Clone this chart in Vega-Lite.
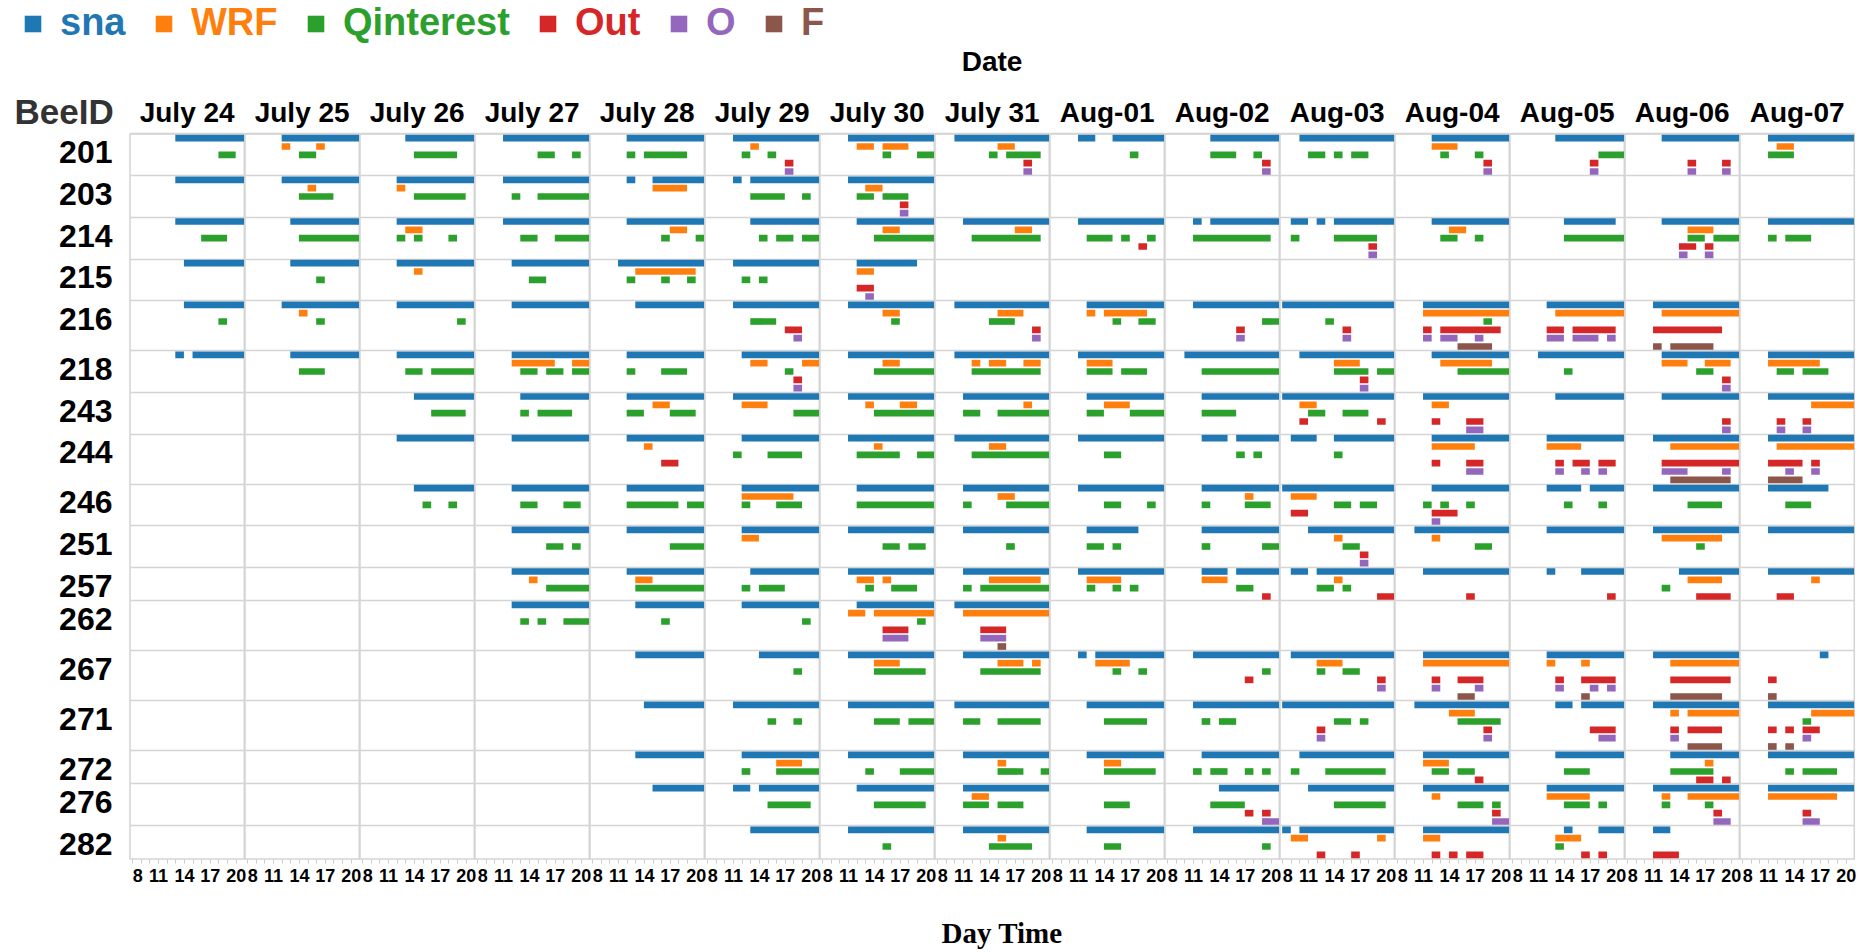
{
"$schema":"https://vega.github.io/schema/vega-lite/v6.json",
"padding":{"left":14,"top":5,"right":8,"bottom":5},
"bounds":"flush",
"background":"white",
"title":{"text":"Day Time","orient":"bottom","anchor":"middle","frame":"bounds","dx":67,"font":"Liberation Serif","fontSize":29,"fontWeight":"bold","color":"black","offset":35},
"data":{"values":[
{"date":"July 24","lane":"201|sna","beh":"sna","from":13,"to":21},
{"date":"July 24","lane":"201|Qinterest","beh":"Qinterest","from":18,"to":20},
{"date":"July 25","lane":"201|sna","beh":"sna","from":12,"to":21},
{"date":"July 25","lane":"201|WRF","beh":"WRF","from":12,"to":13},
{"date":"July 25","lane":"201|WRF","beh":"WRF","from":16,"to":17},
{"date":"July 25","lane":"201|Qinterest","beh":"Qinterest","from":14,"to":16},
{"date":"July 26","lane":"201|sna","beh":"sna","from":13,"to":21},
{"date":"July 26","lane":"201|Qinterest","beh":"Qinterest","from":14,"to":19},
{"date":"July 27","lane":"201|sna","beh":"sna","from":11,"to":21},
{"date":"July 27","lane":"201|Qinterest","beh":"Qinterest","from":15,"to":17},
{"date":"July 27","lane":"201|Qinterest","beh":"Qinterest","from":19,"to":20},
{"date":"July 28","lane":"201|sna","beh":"sna","from":12,"to":21},
{"date":"July 28","lane":"201|Qinterest","beh":"Qinterest","from":12,"to":13},
{"date":"July 28","lane":"201|Qinterest","beh":"Qinterest","from":14,"to":19},
{"date":"July 29","lane":"201|sna","beh":"sna","from":11,"to":21},
{"date":"July 29","lane":"201|WRF","beh":"WRF","from":13,"to":14},
{"date":"July 29","lane":"201|Qinterest","beh":"Qinterest","from":12,"to":13},
{"date":"July 29","lane":"201|Qinterest","beh":"Qinterest","from":15,"to":16},
{"date":"July 29","lane":"201|Out","beh":"Out","from":17,"to":18},
{"date":"July 29","lane":"201|O","beh":"O","from":17,"to":18},
{"date":"July 30","lane":"201|sna","beh":"sna","from":11,"to":21},
{"date":"July 30","lane":"201|WRF","beh":"WRF","from":12,"to":14},
{"date":"July 30","lane":"201|WRF","beh":"WRF","from":15,"to":18},
{"date":"July 30","lane":"201|Qinterest","beh":"Qinterest","from":15,"to":16},
{"date":"July 30","lane":"201|Qinterest","beh":"Qinterest","from":19,"to":21},
{"date":"July 31","lane":"201|sna","beh":"sna","from":10,"to":21},
{"date":"July 31","lane":"201|WRF","beh":"WRF","from":15,"to":17},
{"date":"July 31","lane":"201|Qinterest","beh":"Qinterest","from":14,"to":15},
{"date":"July 31","lane":"201|Qinterest","beh":"Qinterest","from":16,"to":20},
{"date":"July 31","lane":"201|Out","beh":"Out","from":18,"to":19},
{"date":"July 31","lane":"201|O","beh":"O","from":18,"to":19},
{"date":"Aug-01","lane":"201|sna","beh":"sna","from":11,"to":13},
{"date":"Aug-01","lane":"201|sna","beh":"sna","from":15,"to":21},
{"date":"Aug-01","lane":"201|Qinterest","beh":"Qinterest","from":17,"to":18},
{"date":"Aug-02","lane":"201|sna","beh":"sna","from":13,"to":21},
{"date":"Aug-02","lane":"201|Qinterest","beh":"Qinterest","from":13,"to":16},
{"date":"Aug-02","lane":"201|Qinterest","beh":"Qinterest","from":18,"to":19},
{"date":"Aug-02","lane":"201|Out","beh":"Out","from":19,"to":20},
{"date":"Aug-02","lane":"201|O","beh":"O","from":19,"to":20},
{"date":"Aug-03","lane":"201|sna","beh":"sna","from":10,"to":21},
{"date":"Aug-03","lane":"201|Qinterest","beh":"Qinterest","from":11,"to":13},
{"date":"Aug-03","lane":"201|Qinterest","beh":"Qinterest","from":14,"to":15},
{"date":"Aug-03","lane":"201|Qinterest","beh":"Qinterest","from":16,"to":18},
{"date":"Aug-04","lane":"201|sna","beh":"sna","from":12,"to":21},
{"date":"Aug-04","lane":"201|WRF","beh":"WRF","from":12,"to":15},
{"date":"Aug-04","lane":"201|Qinterest","beh":"Qinterest","from":13,"to":14},
{"date":"Aug-04","lane":"201|Qinterest","beh":"Qinterest","from":17,"to":18},
{"date":"Aug-04","lane":"201|Out","beh":"Out","from":18,"to":19},
{"date":"Aug-04","lane":"201|O","beh":"O","from":18,"to":19},
{"date":"Aug-05","lane":"201|sna","beh":"sna","from":13,"to":21},
{"date":"Aug-05","lane":"201|Qinterest","beh":"Qinterest","from":18,"to":21},
{"date":"Aug-05","lane":"201|Out","beh":"Out","from":17,"to":18},
{"date":"Aug-05","lane":"201|O","beh":"O","from":17,"to":18},
{"date":"Aug-06","lane":"201|sna","beh":"sna","from":12,"to":21},
{"date":"Aug-06","lane":"201|Out","beh":"Out","from":15,"to":16},
{"date":"Aug-06","lane":"201|Out","beh":"Out","from":19,"to":20},
{"date":"Aug-06","lane":"201|O","beh":"O","from":15,"to":16},
{"date":"Aug-06","lane":"201|O","beh":"O","from":19,"to":20},
{"date":"Aug-07","lane":"201|sna","beh":"sna","from":11,"to":21},
{"date":"Aug-07","lane":"201|WRF","beh":"WRF","from":12,"to":14},
{"date":"Aug-07","lane":"201|Qinterest","beh":"Qinterest","from":11,"to":14},

{"date":"July 24","lane":"203|sna","beh":"sna","from":13,"to":21},
{"date":"July 25","lane":"203|sna","beh":"sna","from":12,"to":21},
{"date":"July 25","lane":"203|WRF","beh":"WRF","from":15,"to":16},
{"date":"July 25","lane":"203|Qinterest","beh":"Qinterest","from":14,"to":18},
{"date":"July 26","lane":"203|sna","beh":"sna","from":12,"to":21},
{"date":"July 26","lane":"203|WRF","beh":"WRF","from":12,"to":13},
{"date":"July 26","lane":"203|Qinterest","beh":"Qinterest","from":14,"to":20},
{"date":"July 27","lane":"203|sna","beh":"sna","from":11,"to":21},
{"date":"July 27","lane":"203|Qinterest","beh":"Qinterest","from":12,"to":13},
{"date":"July 27","lane":"203|Qinterest","beh":"Qinterest","from":15,"to":21},
{"date":"July 28","lane":"203|sna","beh":"sna","from":12,"to":13},
{"date":"July 28","lane":"203|sna","beh":"sna","from":15,"to":21},
{"date":"July 28","lane":"203|WRF","beh":"WRF","from":15,"to":19},
{"date":"July 29","lane":"203|sna","beh":"sna","from":11,"to":12},
{"date":"July 29","lane":"203|sna","beh":"sna","from":13,"to":21},
{"date":"July 29","lane":"203|Qinterest","beh":"Qinterest","from":13,"to":17},
{"date":"July 29","lane":"203|Qinterest","beh":"Qinterest","from":19,"to":20},
{"date":"July 30","lane":"203|sna","beh":"sna","from":11,"to":21},
{"date":"July 30","lane":"203|WRF","beh":"WRF","from":13,"to":15},
{"date":"July 30","lane":"203|Qinterest","beh":"Qinterest","from":12,"to":14},
{"date":"July 30","lane":"203|Qinterest","beh":"Qinterest","from":15,"to":18},
{"date":"July 30","lane":"203|Out","beh":"Out","from":17,"to":18},
{"date":"July 30","lane":"203|O","beh":"O","from":17,"to":18},

{"date":"July 24","lane":"214|sna","beh":"sna","from":13,"to":21},
{"date":"July 24","lane":"214|Qinterest","beh":"Qinterest","from":16,"to":19},
{"date":"July 25","lane":"214|sna","beh":"sna","from":13,"to":21},
{"date":"July 25","lane":"214|Qinterest","beh":"Qinterest","from":14,"to":21},
{"date":"July 26","lane":"214|sna","beh":"sna","from":12,"to":21},
{"date":"July 26","lane":"214|WRF","beh":"WRF","from":13,"to":15},
{"date":"July 26","lane":"214|Qinterest","beh":"Qinterest","from":12,"to":13},
{"date":"July 26","lane":"214|Qinterest","beh":"Qinterest","from":14,"to":15},
{"date":"July 26","lane":"214|Qinterest","beh":"Qinterest","from":18,"to":19},
{"date":"July 27","lane":"214|sna","beh":"sna","from":11,"to":21},
{"date":"July 27","lane":"214|Qinterest","beh":"Qinterest","from":13,"to":15},
{"date":"July 27","lane":"214|Qinterest","beh":"Qinterest","from":17,"to":21},
{"date":"July 28","lane":"214|sna","beh":"sna","from":12,"to":21},
{"date":"July 28","lane":"214|WRF","beh":"WRF","from":17,"to":19},
{"date":"July 28","lane":"214|Qinterest","beh":"Qinterest","from":16,"to":17},
{"date":"July 28","lane":"214|Qinterest","beh":"Qinterest","from":20,"to":21},
{"date":"July 29","lane":"214|sna","beh":"sna","from":13,"to":21},
{"date":"July 29","lane":"214|Qinterest","beh":"Qinterest","from":14,"to":15},
{"date":"July 29","lane":"214|Qinterest","beh":"Qinterest","from":16,"to":18},
{"date":"July 29","lane":"214|Qinterest","beh":"Qinterest","from":19,"to":21},
{"date":"July 30","lane":"214|sna","beh":"sna","from":12,"to":21},
{"date":"July 30","lane":"214|WRF","beh":"WRF","from":15,"to":17},
{"date":"July 30","lane":"214|Qinterest","beh":"Qinterest","from":14,"to":21},
{"date":"July 31","lane":"214|sna","beh":"sna","from":11,"to":21},
{"date":"July 31","lane":"214|WRF","beh":"WRF","from":17,"to":19},
{"date":"July 31","lane":"214|Qinterest","beh":"Qinterest","from":12,"to":20},
{"date":"Aug-01","lane":"214|sna","beh":"sna","from":11,"to":21},
{"date":"Aug-01","lane":"214|Qinterest","beh":"Qinterest","from":12,"to":15},
{"date":"Aug-01","lane":"214|Qinterest","beh":"Qinterest","from":16,"to":17},
{"date":"Aug-01","lane":"214|Qinterest","beh":"Qinterest","from":19,"to":20},
{"date":"Aug-01","lane":"214|Out","beh":"Out","from":18,"to":19},
{"date":"Aug-02","lane":"214|sna","beh":"sna","from":11,"to":12},
{"date":"Aug-02","lane":"214|sna","beh":"sna","from":13,"to":21},
{"date":"Aug-02","lane":"214|Qinterest","beh":"Qinterest","from":11,"to":20},
{"date":"Aug-03","lane":"214|sna","beh":"sna","from":9,"to":11},
{"date":"Aug-03","lane":"214|sna","beh":"sna","from":12,"to":13},
{"date":"Aug-03","lane":"214|sna","beh":"sna","from":14,"to":21},
{"date":"Aug-03","lane":"214|Qinterest","beh":"Qinterest","from":9,"to":10},
{"date":"Aug-03","lane":"214|Qinterest","beh":"Qinterest","from":14,"to":19},
{"date":"Aug-03","lane":"214|Out","beh":"Out","from":18,"to":19},
{"date":"Aug-03","lane":"214|O","beh":"O","from":18,"to":19},
{"date":"Aug-04","lane":"214|sna","beh":"sna","from":12,"to":21},
{"date":"Aug-04","lane":"214|WRF","beh":"WRF","from":14,"to":16},
{"date":"Aug-04","lane":"214|Qinterest","beh":"Qinterest","from":13,"to":15},
{"date":"Aug-04","lane":"214|Qinterest","beh":"Qinterest","from":17,"to":18},
{"date":"Aug-05","lane":"214|sna","beh":"sna","from":14,"to":20},
{"date":"Aug-05","lane":"214|Qinterest","beh":"Qinterest","from":14,"to":21},
{"date":"Aug-06","lane":"214|sna","beh":"sna","from":12,"to":21},
{"date":"Aug-06","lane":"214|WRF","beh":"WRF","from":15,"to":18},
{"date":"Aug-06","lane":"214|Qinterest","beh":"Qinterest","from":15,"to":17},
{"date":"Aug-06","lane":"214|Qinterest","beh":"Qinterest","from":18,"to":21},
{"date":"Aug-06","lane":"214|Out","beh":"Out","from":14,"to":16},
{"date":"Aug-06","lane":"214|Out","beh":"Out","from":17,"to":18},
{"date":"Aug-06","lane":"214|O","beh":"O","from":14,"to":15},
{"date":"Aug-06","lane":"214|O","beh":"O","from":17,"to":18},
{"date":"Aug-07","lane":"214|sna","beh":"sna","from":11,"to":21},
{"date":"Aug-07","lane":"214|Qinterest","beh":"Qinterest","from":11,"to":12},
{"date":"Aug-07","lane":"214|Qinterest","beh":"Qinterest","from":13,"to":16},

{"date":"July 24","lane":"215|sna","beh":"sna","from":14,"to":21},
{"date":"July 25","lane":"215|sna","beh":"sna","from":13,"to":21},
{"date":"July 25","lane":"215|Qinterest","beh":"Qinterest","from":16,"to":17},
{"date":"July 26","lane":"215|sna","beh":"sna","from":12,"to":21},
{"date":"July 26","lane":"215|WRF","beh":"WRF","from":14,"to":15},
{"date":"July 27","lane":"215|sna","beh":"sna","from":12,"to":21},
{"date":"July 27","lane":"215|Qinterest","beh":"Qinterest","from":14,"to":16},
{"date":"July 28","lane":"215|sna","beh":"sna","from":11,"to":21},
{"date":"July 28","lane":"215|WRF","beh":"WRF","from":13,"to":20},
{"date":"July 28","lane":"215|Qinterest","beh":"Qinterest","from":12,"to":13},
{"date":"July 28","lane":"215|Qinterest","beh":"Qinterest","from":16,"to":17},
{"date":"July 28","lane":"215|Qinterest","beh":"Qinterest","from":19,"to":20},
{"date":"July 29","lane":"215|sna","beh":"sna","from":11,"to":21},
{"date":"July 29","lane":"215|Qinterest","beh":"Qinterest","from":12,"to":13},
{"date":"July 29","lane":"215|Qinterest","beh":"Qinterest","from":14,"to":15},
{"date":"July 30","lane":"215|sna","beh":"sna","from":12,"to":19},
{"date":"July 30","lane":"215|WRF","beh":"WRF","from":12,"to":14},
{"date":"July 30","lane":"215|Out","beh":"Out","from":12,"to":14},
{"date":"July 30","lane":"215|O","beh":"O","from":13,"to":14},

{"date":"July 24","lane":"216|sna","beh":"sna","from":14,"to":21},
{"date":"July 24","lane":"216|Qinterest","beh":"Qinterest","from":18,"to":19},
{"date":"July 25","lane":"216|sna","beh":"sna","from":12,"to":21},
{"date":"July 25","lane":"216|WRF","beh":"WRF","from":14,"to":15},
{"date":"July 25","lane":"216|Qinterest","beh":"Qinterest","from":16,"to":17},
{"date":"July 26","lane":"216|sna","beh":"sna","from":12,"to":21},
{"date":"July 26","lane":"216|Qinterest","beh":"Qinterest","from":19,"to":20},
{"date":"July 27","lane":"216|sna","beh":"sna","from":12,"to":21},
{"date":"July 28","lane":"216|sna","beh":"sna","from":13,"to":21},
{"date":"July 29","lane":"216|sna","beh":"sna","from":11,"to":21},
{"date":"July 29","lane":"216|Qinterest","beh":"Qinterest","from":13,"to":16},
{"date":"July 29","lane":"216|Out","beh":"Out","from":17,"to":19},
{"date":"July 29","lane":"216|O","beh":"O","from":18,"to":19},
{"date":"July 30","lane":"216|sna","beh":"sna","from":11,"to":21},
{"date":"July 30","lane":"216|WRF","beh":"WRF","from":15,"to":17},
{"date":"July 30","lane":"216|Qinterest","beh":"Qinterest","from":16,"to":17},
{"date":"July 31","lane":"216|sna","beh":"sna","from":10,"to":21},
{"date":"July 31","lane":"216|WRF","beh":"WRF","from":15,"to":18},
{"date":"July 31","lane":"216|Qinterest","beh":"Qinterest","from":14,"to":17},
{"date":"July 31","lane":"216|Out","beh":"Out","from":19,"to":20},
{"date":"July 31","lane":"216|O","beh":"O","from":19,"to":20},
{"date":"Aug-01","lane":"216|sna","beh":"sna","from":12,"to":21},
{"date":"Aug-01","lane":"216|WRF","beh":"WRF","from":12,"to":13},
{"date":"Aug-01","lane":"216|WRF","beh":"WRF","from":14,"to":19},
{"date":"Aug-01","lane":"216|Qinterest","beh":"Qinterest","from":15,"to":16},
{"date":"Aug-01","lane":"216|Qinterest","beh":"Qinterest","from":18,"to":20},
{"date":"Aug-02","lane":"216|sna","beh":"sna","from":11,"to":21},
{"date":"Aug-02","lane":"216|Qinterest","beh":"Qinterest","from":19,"to":21},
{"date":"Aug-02","lane":"216|Out","beh":"Out","from":16,"to":17},
{"date":"Aug-02","lane":"216|O","beh":"O","from":16,"to":17},
{"date":"Aug-03","lane":"216|sna","beh":"sna","from":8,"to":21},
{"date":"Aug-03","lane":"216|Qinterest","beh":"Qinterest","from":13,"to":14},
{"date":"Aug-03","lane":"216|Out","beh":"Out","from":15,"to":16},
{"date":"Aug-03","lane":"216|O","beh":"O","from":15,"to":16},
{"date":"Aug-04","lane":"216|sna","beh":"sna","from":11,"to":21},
{"date":"Aug-04","lane":"216|WRF","beh":"WRF","from":11,"to":21},
{"date":"Aug-04","lane":"216|Qinterest","beh":"Qinterest","from":18,"to":19},
{"date":"Aug-04","lane":"216|Out","beh":"Out","from":11,"to":12},
{"date":"Aug-04","lane":"216|Out","beh":"Out","from":13,"to":20},
{"date":"Aug-04","lane":"216|O","beh":"O","from":11,"to":12},
{"date":"Aug-04","lane":"216|O","beh":"O","from":13,"to":15},
{"date":"Aug-04","lane":"216|O","beh":"O","from":17,"to":18},
{"date":"Aug-04","lane":"216|F","beh":"F","from":15,"to":19},
{"date":"Aug-05","lane":"216|sna","beh":"sna","from":12,"to":21},
{"date":"Aug-05","lane":"216|WRF","beh":"WRF","from":13,"to":21},
{"date":"Aug-05","lane":"216|Out","beh":"Out","from":12,"to":14},
{"date":"Aug-05","lane":"216|Out","beh":"Out","from":15,"to":20},
{"date":"Aug-05","lane":"216|O","beh":"O","from":12,"to":14},
{"date":"Aug-05","lane":"216|O","beh":"O","from":15,"to":18},
{"date":"Aug-05","lane":"216|O","beh":"O","from":19,"to":20},
{"date":"Aug-06","lane":"216|sna","beh":"sna","from":11,"to":21},
{"date":"Aug-06","lane":"216|WRF","beh":"WRF","from":12,"to":21},
{"date":"Aug-06","lane":"216|Out","beh":"Out","from":11,"to":19},
{"date":"Aug-06","lane":"216|F","beh":"F","from":11,"to":12},
{"date":"Aug-06","lane":"216|F","beh":"F","from":13,"to":18},

{"date":"July 24","lane":"218|sna","beh":"sna","from":13,"to":14},
{"date":"July 24","lane":"218|sna","beh":"sna","from":15,"to":21},
{"date":"July 25","lane":"218|sna","beh":"sna","from":13,"to":21},
{"date":"July 25","lane":"218|Qinterest","beh":"Qinterest","from":14,"to":17},
{"date":"July 26","lane":"218|sna","beh":"sna","from":12,"to":21},
{"date":"July 26","lane":"218|Qinterest","beh":"Qinterest","from":13,"to":15},
{"date":"July 26","lane":"218|Qinterest","beh":"Qinterest","from":16,"to":21},
{"date":"July 27","lane":"218|sna","beh":"sna","from":12,"to":21},
{"date":"July 27","lane":"218|WRF","beh":"WRF","from":12,"to":17},
{"date":"July 27","lane":"218|WRF","beh":"WRF","from":19,"to":21},
{"date":"July 27","lane":"218|Qinterest","beh":"Qinterest","from":13,"to":15},
{"date":"July 27","lane":"218|Qinterest","beh":"Qinterest","from":16,"to":18},
{"date":"July 27","lane":"218|Qinterest","beh":"Qinterest","from":19,"to":21},
{"date":"July 28","lane":"218|sna","beh":"sna","from":12,"to":21},
{"date":"July 28","lane":"218|Qinterest","beh":"Qinterest","from":12,"to":13},
{"date":"July 28","lane":"218|Qinterest","beh":"Qinterest","from":16,"to":19},
{"date":"July 29","lane":"218|sna","beh":"sna","from":12,"to":21},
{"date":"July 29","lane":"218|WRF","beh":"WRF","from":13,"to":15},
{"date":"July 29","lane":"218|WRF","beh":"WRF","from":19,"to":21},
{"date":"July 29","lane":"218|Qinterest","beh":"Qinterest","from":17,"to":18},
{"date":"July 29","lane":"218|Out","beh":"Out","from":18,"to":19},
{"date":"July 29","lane":"218|O","beh":"O","from":18,"to":19},
{"date":"July 30","lane":"218|sna","beh":"sna","from":11,"to":21},
{"date":"July 30","lane":"218|WRF","beh":"WRF","from":15,"to":17},
{"date":"July 30","lane":"218|Qinterest","beh":"Qinterest","from":14,"to":21},
{"date":"July 31","lane":"218|sna","beh":"sna","from":10,"to":21},
{"date":"July 31","lane":"218|WRF","beh":"WRF","from":12,"to":13},
{"date":"July 31","lane":"218|WRF","beh":"WRF","from":14,"to":16},
{"date":"July 31","lane":"218|WRF","beh":"WRF","from":18,"to":20},
{"date":"July 31","lane":"218|Qinterest","beh":"Qinterest","from":12,"to":20},
{"date":"Aug-01","lane":"218|sna","beh":"sna","from":11,"to":21},
{"date":"Aug-01","lane":"218|WRF","beh":"WRF","from":12,"to":15},
{"date":"Aug-01","lane":"218|Qinterest","beh":"Qinterest","from":12,"to":15},
{"date":"Aug-01","lane":"218|Qinterest","beh":"Qinterest","from":16,"to":19},
{"date":"Aug-02","lane":"218|sna","beh":"sna","from":10,"to":21},
{"date":"Aug-02","lane":"218|Qinterest","beh":"Qinterest","from":12,"to":21},
{"date":"Aug-03","lane":"218|sna","beh":"sna","from":10,"to":21},
{"date":"Aug-03","lane":"218|WRF","beh":"WRF","from":14,"to":17},
{"date":"Aug-03","lane":"218|Qinterest","beh":"Qinterest","from":14,"to":18},
{"date":"Aug-03","lane":"218|Qinterest","beh":"Qinterest","from":19,"to":21},
{"date":"Aug-03","lane":"218|Out","beh":"Out","from":17,"to":18},
{"date":"Aug-03","lane":"218|O","beh":"O","from":17,"to":18},
{"date":"Aug-04","lane":"218|sna","beh":"sna","from":12,"to":21},
{"date":"Aug-04","lane":"218|WRF","beh":"WRF","from":13,"to":19},
{"date":"Aug-04","lane":"218|Qinterest","beh":"Qinterest","from":15,"to":21},
{"date":"Aug-05","lane":"218|sna","beh":"sna","from":11,"to":21},
{"date":"Aug-05","lane":"218|Qinterest","beh":"Qinterest","from":14,"to":15},
{"date":"Aug-06","lane":"218|sna","beh":"sna","from":12,"to":21},
{"date":"Aug-06","lane":"218|WRF","beh":"WRF","from":12,"to":15},
{"date":"Aug-06","lane":"218|WRF","beh":"WRF","from":17,"to":20},
{"date":"Aug-06","lane":"218|Qinterest","beh":"Qinterest","from":16,"to":18},
{"date":"Aug-06","lane":"218|Out","beh":"Out","from":19,"to":20},
{"date":"Aug-06","lane":"218|O","beh":"O","from":19,"to":20},
{"date":"Aug-07","lane":"218|sna","beh":"sna","from":11,"to":21},
{"date":"Aug-07","lane":"218|WRF","beh":"WRF","from":11,"to":17},
{"date":"Aug-07","lane":"218|Qinterest","beh":"Qinterest","from":12,"to":14},
{"date":"Aug-07","lane":"218|Qinterest","beh":"Qinterest","from":15,"to":18},

{"date":"July 26","lane":"243|sna","beh":"sna","from":14,"to":21},
{"date":"July 26","lane":"243|Qinterest","beh":"Qinterest","from":16,"to":20},
{"date":"July 27","lane":"243|sna","beh":"sna","from":13,"to":21},
{"date":"July 27","lane":"243|Qinterest","beh":"Qinterest","from":13,"to":14},
{"date":"July 27","lane":"243|Qinterest","beh":"Qinterest","from":15,"to":19},
{"date":"July 28","lane":"243|sna","beh":"sna","from":12,"to":21},
{"date":"July 28","lane":"243|WRF","beh":"WRF","from":15,"to":17},
{"date":"July 28","lane":"243|Qinterest","beh":"Qinterest","from":12,"to":14},
{"date":"July 28","lane":"243|Qinterest","beh":"Qinterest","from":17,"to":20},
{"date":"July 29","lane":"243|sna","beh":"sna","from":11,"to":21},
{"date":"July 29","lane":"243|WRF","beh":"WRF","from":12,"to":15},
{"date":"July 29","lane":"243|Qinterest","beh":"Qinterest","from":18,"to":21},
{"date":"July 30","lane":"243|sna","beh":"sna","from":11,"to":21},
{"date":"July 30","lane":"243|WRF","beh":"WRF","from":13,"to":14},
{"date":"July 30","lane":"243|WRF","beh":"WRF","from":17,"to":19},
{"date":"July 30","lane":"243|Qinterest","beh":"Qinterest","from":14,"to":21},
{"date":"July 31","lane":"243|sna","beh":"sna","from":11,"to":21},
{"date":"July 31","lane":"243|WRF","beh":"WRF","from":18,"to":19},
{"date":"July 31","lane":"243|Qinterest","beh":"Qinterest","from":11,"to":13},
{"date":"July 31","lane":"243|Qinterest","beh":"Qinterest","from":15,"to":21},
{"date":"Aug-01","lane":"243|sna","beh":"sna","from":12,"to":21},
{"date":"Aug-01","lane":"243|WRF","beh":"WRF","from":14,"to":17},
{"date":"Aug-01","lane":"243|Qinterest","beh":"Qinterest","from":12,"to":14},
{"date":"Aug-01","lane":"243|Qinterest","beh":"Qinterest","from":17,"to":21},
{"date":"Aug-02","lane":"243|sna","beh":"sna","from":12,"to":21},
{"date":"Aug-02","lane":"243|Qinterest","beh":"Qinterest","from":12,"to":16},
{"date":"Aug-03","lane":"243|sna","beh":"sna","from":8,"to":21},
{"date":"Aug-03","lane":"243|WRF","beh":"WRF","from":10,"to":12},
{"date":"Aug-03","lane":"243|Qinterest","beh":"Qinterest","from":11,"to":13},
{"date":"Aug-03","lane":"243|Qinterest","beh":"Qinterest","from":15,"to":18},
{"date":"Aug-03","lane":"243|Out","beh":"Out","from":10,"to":11},
{"date":"Aug-03","lane":"243|Out","beh":"Out","from":19,"to":20},
{"date":"Aug-04","lane":"243|sna","beh":"sna","from":11,"to":21},
{"date":"Aug-04","lane":"243|WRF","beh":"WRF","from":12,"to":14},
{"date":"Aug-04","lane":"243|Out","beh":"Out","from":12,"to":13},
{"date":"Aug-04","lane":"243|Out","beh":"Out","from":16,"to":18},
{"date":"Aug-04","lane":"243|O","beh":"O","from":16,"to":18},
{"date":"Aug-05","lane":"243|sna","beh":"sna","from":13,"to":21},
{"date":"Aug-06","lane":"243|sna","beh":"sna","from":12,"to":21},
{"date":"Aug-06","lane":"243|Out","beh":"Out","from":19,"to":20},
{"date":"Aug-06","lane":"243|O","beh":"O","from":19,"to":20},
{"date":"Aug-07","lane":"243|sna","beh":"sna","from":11,"to":21},
{"date":"Aug-07","lane":"243|WRF","beh":"WRF","from":16,"to":21},
{"date":"Aug-07","lane":"243|Out","beh":"Out","from":12,"to":13},
{"date":"Aug-07","lane":"243|Out","beh":"Out","from":15,"to":16},
{"date":"Aug-07","lane":"243|O","beh":"O","from":12,"to":13},
{"date":"Aug-07","lane":"243|O","beh":"O","from":15,"to":16},

{"date":"July 26","lane":"244|sna","beh":"sna","from":12,"to":21},
{"date":"July 27","lane":"244|sna","beh":"sna","from":12,"to":21},
{"date":"July 28","lane":"244|sna","beh":"sna","from":12,"to":21},
{"date":"July 28","lane":"244|WRF","beh":"WRF","from":14,"to":15},
{"date":"July 28","lane":"244|Out","beh":"Out","from":16,"to":18},
{"date":"July 29","lane":"244|sna","beh":"sna","from":12,"to":21},
{"date":"July 29","lane":"244|Qinterest","beh":"Qinterest","from":11,"to":12},
{"date":"July 29","lane":"244|Qinterest","beh":"Qinterest","from":15,"to":19},
{"date":"July 30","lane":"244|sna","beh":"sna","from":11,"to":21},
{"date":"July 30","lane":"244|WRF","beh":"WRF","from":14,"to":15},
{"date":"July 30","lane":"244|Qinterest","beh":"Qinterest","from":12,"to":17},
{"date":"July 30","lane":"244|Qinterest","beh":"Qinterest","from":19,"to":21},
{"date":"July 31","lane":"244|sna","beh":"sna","from":10,"to":21},
{"date":"July 31","lane":"244|WRF","beh":"WRF","from":14,"to":16},
{"date":"July 31","lane":"244|Qinterest","beh":"Qinterest","from":12,"to":21},
{"date":"Aug-01","lane":"244|sna","beh":"sna","from":11,"to":21},
{"date":"Aug-01","lane":"244|Qinterest","beh":"Qinterest","from":14,"to":16},
{"date":"Aug-02","lane":"244|sna","beh":"sna","from":12,"to":15},
{"date":"Aug-02","lane":"244|sna","beh":"sna","from":16,"to":21},
{"date":"Aug-02","lane":"244|Qinterest","beh":"Qinterest","from":16,"to":17},
{"date":"Aug-02","lane":"244|Qinterest","beh":"Qinterest","from":18,"to":19},
{"date":"Aug-03","lane":"244|sna","beh":"sna","from":9,"to":12},
{"date":"Aug-03","lane":"244|sna","beh":"sna","from":14,"to":21},
{"date":"Aug-03","lane":"244|Qinterest","beh":"Qinterest","from":14,"to":15},
{"date":"Aug-04","lane":"244|sna","beh":"sna","from":12,"to":21},
{"date":"Aug-04","lane":"244|WRF","beh":"WRF","from":12,"to":17},
{"date":"Aug-04","lane":"244|Out","beh":"Out","from":12,"to":13},
{"date":"Aug-04","lane":"244|Out","beh":"Out","from":16,"to":18},
{"date":"Aug-04","lane":"244|O","beh":"O","from":16,"to":18},
{"date":"Aug-05","lane":"244|sna","beh":"sna","from":12,"to":21},
{"date":"Aug-05","lane":"244|WRF","beh":"WRF","from":12,"to":16},
{"date":"Aug-05","lane":"244|Out","beh":"Out","from":13,"to":14},
{"date":"Aug-05","lane":"244|Out","beh":"Out","from":15,"to":17},
{"date":"Aug-05","lane":"244|Out","beh":"Out","from":18,"to":20},
{"date":"Aug-05","lane":"244|O","beh":"O","from":13,"to":14},
{"date":"Aug-05","lane":"244|O","beh":"O","from":16,"to":17},
{"date":"Aug-05","lane":"244|O","beh":"O","from":18,"to":19},
{"date":"Aug-06","lane":"244|sna","beh":"sna","from":11,"to":21},
{"date":"Aug-06","lane":"244|WRF","beh":"WRF","from":13,"to":21},
{"date":"Aug-06","lane":"244|Out","beh":"Out","from":12,"to":21},
{"date":"Aug-06","lane":"244|O","beh":"O","from":12,"to":15},
{"date":"Aug-06","lane":"244|O","beh":"O","from":19,"to":20},
{"date":"Aug-06","lane":"244|F","beh":"F","from":13,"to":20},
{"date":"Aug-07","lane":"244|sna","beh":"sna","from":11,"to":21},
{"date":"Aug-07","lane":"244|WRF","beh":"WRF","from":12,"to":21},
{"date":"Aug-07","lane":"244|Out","beh":"Out","from":11,"to":15},
{"date":"Aug-07","lane":"244|Out","beh":"Out","from":16,"to":17},
{"date":"Aug-07","lane":"244|O","beh":"O","from":13,"to":14},
{"date":"Aug-07","lane":"244|O","beh":"O","from":16,"to":17},
{"date":"Aug-07","lane":"244|F","beh":"F","from":11,"to":15},

{"date":"July 26","lane":"246|sna","beh":"sna","from":14,"to":21},
{"date":"July 26","lane":"246|Qinterest","beh":"Qinterest","from":15,"to":16},
{"date":"July 26","lane":"246|Qinterest","beh":"Qinterest","from":18,"to":19},
{"date":"July 27","lane":"246|sna","beh":"sna","from":12,"to":21},
{"date":"July 27","lane":"246|Qinterest","beh":"Qinterest","from":13,"to":15},
{"date":"July 27","lane":"246|Qinterest","beh":"Qinterest","from":18,"to":20},
{"date":"July 28","lane":"246|sna","beh":"sna","from":12,"to":21},
{"date":"July 28","lane":"246|Qinterest","beh":"Qinterest","from":12,"to":18},
{"date":"July 28","lane":"246|Qinterest","beh":"Qinterest","from":19,"to":21},
{"date":"July 29","lane":"246|sna","beh":"sna","from":12,"to":21},
{"date":"July 29","lane":"246|WRF","beh":"WRF","from":12,"to":18},
{"date":"July 29","lane":"246|Qinterest","beh":"Qinterest","from":12,"to":13},
{"date":"July 29","lane":"246|Qinterest","beh":"Qinterest","from":16,"to":19},
{"date":"July 30","lane":"246|sna","beh":"sna","from":12,"to":21},
{"date":"July 30","lane":"246|Qinterest","beh":"Qinterest","from":12,"to":21},
{"date":"July 31","lane":"246|sna","beh":"sna","from":11,"to":21},
{"date":"July 31","lane":"246|WRF","beh":"WRF","from":15,"to":17},
{"date":"July 31","lane":"246|Qinterest","beh":"Qinterest","from":11,"to":12},
{"date":"July 31","lane":"246|Qinterest","beh":"Qinterest","from":16,"to":21},
{"date":"Aug-01","lane":"246|sna","beh":"sna","from":11,"to":21},
{"date":"Aug-01","lane":"246|Qinterest","beh":"Qinterest","from":14,"to":16},
{"date":"Aug-01","lane":"246|Qinterest","beh":"Qinterest","from":19,"to":20},
{"date":"Aug-02","lane":"246|sna","beh":"sna","from":12,"to":21},
{"date":"Aug-02","lane":"246|WRF","beh":"WRF","from":17,"to":18},
{"date":"Aug-02","lane":"246|Qinterest","beh":"Qinterest","from":12,"to":13},
{"date":"Aug-02","lane":"246|Qinterest","beh":"Qinterest","from":17,"to":20},
{"date":"Aug-03","lane":"246|sna","beh":"sna","from":8,"to":21},
{"date":"Aug-03","lane":"246|WRF","beh":"WRF","from":9,"to":12},
{"date":"Aug-03","lane":"246|Qinterest","beh":"Qinterest","from":14,"to":16},
{"date":"Aug-03","lane":"246|Qinterest","beh":"Qinterest","from":17,"to":19},
{"date":"Aug-03","lane":"246|Out","beh":"Out","from":9,"to":11},
{"date":"Aug-04","lane":"246|sna","beh":"sna","from":12,"to":21},
{"date":"Aug-04","lane":"246|Qinterest","beh":"Qinterest","from":11,"to":12},
{"date":"Aug-04","lane":"246|Qinterest","beh":"Qinterest","from":13,"to":14},
{"date":"Aug-04","lane":"246|Qinterest","beh":"Qinterest","from":16,"to":17},
{"date":"Aug-04","lane":"246|Out","beh":"Out","from":12,"to":15},
{"date":"Aug-04","lane":"246|O","beh":"O","from":12,"to":13},
{"date":"Aug-05","lane":"246|sna","beh":"sna","from":12,"to":16},
{"date":"Aug-05","lane":"246|sna","beh":"sna","from":17,"to":21},
{"date":"Aug-05","lane":"246|Qinterest","beh":"Qinterest","from":14,"to":15},
{"date":"Aug-05","lane":"246|Qinterest","beh":"Qinterest","from":18,"to":19},
{"date":"Aug-06","lane":"246|sna","beh":"sna","from":11,"to":21},
{"date":"Aug-06","lane":"246|Qinterest","beh":"Qinterest","from":15,"to":19},
{"date":"Aug-07","lane":"246|sna","beh":"sna","from":11,"to":18},
{"date":"Aug-07","lane":"246|Qinterest","beh":"Qinterest","from":13,"to":16},

{"date":"July 27","lane":"251|sna","beh":"sna","from":12,"to":21},
{"date":"July 27","lane":"251|Qinterest","beh":"Qinterest","from":16,"to":18},
{"date":"July 27","lane":"251|Qinterest","beh":"Qinterest","from":19,"to":20},
{"date":"July 28","lane":"251|sna","beh":"sna","from":12,"to":21},
{"date":"July 28","lane":"251|Qinterest","beh":"Qinterest","from":17,"to":21},
{"date":"July 29","lane":"251|sna","beh":"sna","from":12,"to":21},
{"date":"July 29","lane":"251|WRF","beh":"WRF","from":12,"to":14},
{"date":"July 30","lane":"251|sna","beh":"sna","from":11,"to":21},
{"date":"July 30","lane":"251|Qinterest","beh":"Qinterest","from":15,"to":17},
{"date":"July 30","lane":"251|Qinterest","beh":"Qinterest","from":18,"to":20},
{"date":"July 31","lane":"251|sna","beh":"sna","from":11,"to":21},
{"date":"July 31","lane":"251|Qinterest","beh":"Qinterest","from":16,"to":17},
{"date":"Aug-01","lane":"251|sna","beh":"sna","from":12,"to":18},
{"date":"Aug-01","lane":"251|Qinterest","beh":"Qinterest","from":12,"to":14},
{"date":"Aug-01","lane":"251|Qinterest","beh":"Qinterest","from":15,"to":16},
{"date":"Aug-02","lane":"251|sna","beh":"sna","from":12,"to":21},
{"date":"Aug-02","lane":"251|Qinterest","beh":"Qinterest","from":12,"to":13},
{"date":"Aug-02","lane":"251|Qinterest","beh":"Qinterest","from":19,"to":21},
{"date":"Aug-03","lane":"251|sna","beh":"sna","from":11,"to":21},
{"date":"Aug-03","lane":"251|WRF","beh":"WRF","from":14,"to":15},
{"date":"Aug-03","lane":"251|Qinterest","beh":"Qinterest","from":15,"to":17},
{"date":"Aug-03","lane":"251|Out","beh":"Out","from":17,"to":18},
{"date":"Aug-03","lane":"251|O","beh":"O","from":17,"to":18},
{"date":"Aug-04","lane":"251|sna","beh":"sna","from":10,"to":21},
{"date":"Aug-04","lane":"251|WRF","beh":"WRF","from":12,"to":13},
{"date":"Aug-04","lane":"251|Qinterest","beh":"Qinterest","from":17,"to":19},
{"date":"Aug-05","lane":"251|sna","beh":"sna","from":12,"to":21},
{"date":"Aug-06","lane":"251|sna","beh":"sna","from":11,"to":21},
{"date":"Aug-06","lane":"251|WRF","beh":"WRF","from":12,"to":19},
{"date":"Aug-06","lane":"251|Qinterest","beh":"Qinterest","from":16,"to":17},
{"date":"Aug-07","lane":"251|sna","beh":"sna","from":11,"to":21},

{"date":"July 27","lane":"257|sna","beh":"sna","from":12,"to":21},
{"date":"July 27","lane":"257|WRF","beh":"WRF","from":14,"to":15},
{"date":"July 27","lane":"257|Qinterest","beh":"Qinterest","from":16,"to":21},
{"date":"July 28","lane":"257|sna","beh":"sna","from":12,"to":21},
{"date":"July 28","lane":"257|WRF","beh":"WRF","from":13,"to":15},
{"date":"July 28","lane":"257|Qinterest","beh":"Qinterest","from":13,"to":21},
{"date":"July 29","lane":"257|sna","beh":"sna","from":13,"to":21},
{"date":"July 29","lane":"257|Qinterest","beh":"Qinterest","from":12,"to":13},
{"date":"July 29","lane":"257|Qinterest","beh":"Qinterest","from":14,"to":17},
{"date":"July 30","lane":"257|sna","beh":"sna","from":11,"to":21},
{"date":"July 30","lane":"257|WRF","beh":"WRF","from":12,"to":14},
{"date":"July 30","lane":"257|WRF","beh":"WRF","from":15,"to":16},
{"date":"July 30","lane":"257|Qinterest","beh":"Qinterest","from":13,"to":14},
{"date":"July 30","lane":"257|Qinterest","beh":"Qinterest","from":16,"to":19},
{"date":"July 31","lane":"257|sna","beh":"sna","from":11,"to":21},
{"date":"July 31","lane":"257|WRF","beh":"WRF","from":14,"to":20},
{"date":"July 31","lane":"257|Qinterest","beh":"Qinterest","from":11,"to":12},
{"date":"July 31","lane":"257|Qinterest","beh":"Qinterest","from":13,"to":21},
{"date":"Aug-01","lane":"257|sna","beh":"sna","from":11,"to":21},
{"date":"Aug-01","lane":"257|WRF","beh":"WRF","from":12,"to":16},
{"date":"Aug-01","lane":"257|Qinterest","beh":"Qinterest","from":12,"to":13},
{"date":"Aug-01","lane":"257|Qinterest","beh":"Qinterest","from":15,"to":16},
{"date":"Aug-01","lane":"257|Qinterest","beh":"Qinterest","from":17,"to":18},
{"date":"Aug-02","lane":"257|sna","beh":"sna","from":12,"to":15},
{"date":"Aug-02","lane":"257|sna","beh":"sna","from":16,"to":21},
{"date":"Aug-02","lane":"257|WRF","beh":"WRF","from":12,"to":15},
{"date":"Aug-02","lane":"257|Qinterest","beh":"Qinterest","from":16,"to":18},
{"date":"Aug-02","lane":"257|Out","beh":"Out","from":19,"to":20},
{"date":"Aug-03","lane":"257|sna","beh":"sna","from":9,"to":11},
{"date":"Aug-03","lane":"257|sna","beh":"sna","from":12,"to":21},
{"date":"Aug-03","lane":"257|WRF","beh":"WRF","from":14,"to":15},
{"date":"Aug-03","lane":"257|Qinterest","beh":"Qinterest","from":12,"to":14},
{"date":"Aug-03","lane":"257|Qinterest","beh":"Qinterest","from":15,"to":16},
{"date":"Aug-03","lane":"257|Out","beh":"Out","from":19,"to":21},
{"date":"Aug-04","lane":"257|sna","beh":"sna","from":11,"to":21},
{"date":"Aug-04","lane":"257|Out","beh":"Out","from":16,"to":17},
{"date":"Aug-05","lane":"257|sna","beh":"sna","from":12,"to":13},
{"date":"Aug-05","lane":"257|sna","beh":"sna","from":16,"to":21},
{"date":"Aug-05","lane":"257|Out","beh":"Out","from":19,"to":20},
{"date":"Aug-06","lane":"257|sna","beh":"sna","from":14,"to":21},
{"date":"Aug-06","lane":"257|WRF","beh":"WRF","from":15,"to":19},
{"date":"Aug-06","lane":"257|Qinterest","beh":"Qinterest","from":12,"to":13},
{"date":"Aug-06","lane":"257|Out","beh":"Out","from":16,"to":20},
{"date":"Aug-07","lane":"257|sna","beh":"sna","from":11,"to":21},
{"date":"Aug-07","lane":"257|WRF","beh":"WRF","from":16,"to":17},
{"date":"Aug-07","lane":"257|Out","beh":"Out","from":12,"to":14},

{"date":"July 27","lane":"262|sna","beh":"sna","from":12,"to":21},
{"date":"July 27","lane":"262|Qinterest","beh":"Qinterest","from":13,"to":14},
{"date":"July 27","lane":"262|Qinterest","beh":"Qinterest","from":15,"to":16},
{"date":"July 27","lane":"262|Qinterest","beh":"Qinterest","from":18,"to":21},
{"date":"July 28","lane":"262|sna","beh":"sna","from":13,"to":21},
{"date":"July 28","lane":"262|Qinterest","beh":"Qinterest","from":16,"to":17},
{"date":"July 29","lane":"262|sna","beh":"sna","from":12,"to":21},
{"date":"July 29","lane":"262|Qinterest","beh":"Qinterest","from":19,"to":20},
{"date":"July 30","lane":"262|sna","beh":"sna","from":12,"to":21},
{"date":"July 30","lane":"262|WRF","beh":"WRF","from":11,"to":13},
{"date":"July 30","lane":"262|WRF","beh":"WRF","from":14,"to":21},
{"date":"July 30","lane":"262|Qinterest","beh":"Qinterest","from":19,"to":20},
{"date":"July 30","lane":"262|Out","beh":"Out","from":15,"to":18},
{"date":"July 30","lane":"262|O","beh":"O","from":15,"to":18},
{"date":"July 31","lane":"262|sna","beh":"sna","from":10,"to":21},
{"date":"July 31","lane":"262|WRF","beh":"WRF","from":11,"to":21},
{"date":"July 31","lane":"262|Out","beh":"Out","from":13,"to":16},
{"date":"July 31","lane":"262|O","beh":"O","from":13,"to":16},
{"date":"July 31","lane":"262|F","beh":"F","from":15,"to":16},

{"date":"July 28","lane":"267|sna","beh":"sna","from":13,"to":21},
{"date":"July 29","lane":"267|sna","beh":"sna","from":14,"to":21},
{"date":"July 29","lane":"267|Qinterest","beh":"Qinterest","from":18,"to":19},
{"date":"July 30","lane":"267|sna","beh":"sna","from":11,"to":21},
{"date":"July 30","lane":"267|WRF","beh":"WRF","from":14,"to":17},
{"date":"July 30","lane":"267|Qinterest","beh":"Qinterest","from":14,"to":20},
{"date":"July 31","lane":"267|sna","beh":"sna","from":11,"to":21},
{"date":"July 31","lane":"267|WRF","beh":"WRF","from":15,"to":18},
{"date":"July 31","lane":"267|WRF","beh":"WRF","from":19,"to":20},
{"date":"July 31","lane":"267|Qinterest","beh":"Qinterest","from":13,"to":20},
{"date":"Aug-01","lane":"267|sna","beh":"sna","from":11,"to":12},
{"date":"Aug-01","lane":"267|sna","beh":"sna","from":13,"to":21},
{"date":"Aug-01","lane":"267|WRF","beh":"WRF","from":13,"to":17},
{"date":"Aug-01","lane":"267|Qinterest","beh":"Qinterest","from":15,"to":16},
{"date":"Aug-01","lane":"267|Qinterest","beh":"Qinterest","from":18,"to":19},
{"date":"Aug-02","lane":"267|sna","beh":"sna","from":11,"to":21},
{"date":"Aug-02","lane":"267|Qinterest","beh":"Qinterest","from":19,"to":20},
{"date":"Aug-02","lane":"267|Out","beh":"Out","from":17,"to":18},
{"date":"Aug-03","lane":"267|sna","beh":"sna","from":9,"to":21},
{"date":"Aug-03","lane":"267|WRF","beh":"WRF","from":12,"to":15},
{"date":"Aug-03","lane":"267|Qinterest","beh":"Qinterest","from":12,"to":13},
{"date":"Aug-03","lane":"267|Qinterest","beh":"Qinterest","from":15,"to":17},
{"date":"Aug-03","lane":"267|Out","beh":"Out","from":19,"to":20},
{"date":"Aug-03","lane":"267|O","beh":"O","from":19,"to":20},
{"date":"Aug-04","lane":"267|sna","beh":"sna","from":11,"to":21},
{"date":"Aug-04","lane":"267|WRF","beh":"WRF","from":11,"to":21},
{"date":"Aug-04","lane":"267|Out","beh":"Out","from":12,"to":13},
{"date":"Aug-04","lane":"267|Out","beh":"Out","from":15,"to":18},
{"date":"Aug-04","lane":"267|O","beh":"O","from":12,"to":13},
{"date":"Aug-04","lane":"267|O","beh":"O","from":17,"to":18},
{"date":"Aug-04","lane":"267|F","beh":"F","from":15,"to":17},
{"date":"Aug-05","lane":"267|sna","beh":"sna","from":12,"to":21},
{"date":"Aug-05","lane":"267|WRF","beh":"WRF","from":12,"to":13},
{"date":"Aug-05","lane":"267|WRF","beh":"WRF","from":16,"to":17},
{"date":"Aug-05","lane":"267|Out","beh":"Out","from":13,"to":14},
{"date":"Aug-05","lane":"267|Out","beh":"Out","from":16,"to":20},
{"date":"Aug-05","lane":"267|O","beh":"O","from":13,"to":14},
{"date":"Aug-05","lane":"267|O","beh":"O","from":17,"to":18},
{"date":"Aug-05","lane":"267|O","beh":"O","from":19,"to":20},
{"date":"Aug-05","lane":"267|F","beh":"F","from":16,"to":17},
{"date":"Aug-06","lane":"267|sna","beh":"sna","from":11,"to":21},
{"date":"Aug-06","lane":"267|WRF","beh":"WRF","from":13,"to":21},
{"date":"Aug-06","lane":"267|Out","beh":"Out","from":13,"to":20},
{"date":"Aug-06","lane":"267|F","beh":"F","from":13,"to":19},
{"date":"Aug-07","lane":"267|sna","beh":"sna","from":17,"to":18},
{"date":"Aug-07","lane":"267|Out","beh":"Out","from":11,"to":12},
{"date":"Aug-07","lane":"267|F","beh":"F","from":11,"to":12},

{"date":"July 28","lane":"271|sna","beh":"sna","from":14,"to":21},
{"date":"July 29","lane":"271|sna","beh":"sna","from":11,"to":21},
{"date":"July 29","lane":"271|Qinterest","beh":"Qinterest","from":15,"to":16},
{"date":"July 29","lane":"271|Qinterest","beh":"Qinterest","from":18,"to":19},
{"date":"July 30","lane":"271|sna","beh":"sna","from":11,"to":21},
{"date":"July 30","lane":"271|Qinterest","beh":"Qinterest","from":14,"to":17},
{"date":"July 30","lane":"271|Qinterest","beh":"Qinterest","from":18,"to":21},
{"date":"July 31","lane":"271|sna","beh":"sna","from":10,"to":21},
{"date":"July 31","lane":"271|Qinterest","beh":"Qinterest","from":11,"to":13},
{"date":"July 31","lane":"271|Qinterest","beh":"Qinterest","from":15,"to":20},
{"date":"Aug-01","lane":"271|sna","beh":"sna","from":12,"to":21},
{"date":"Aug-01","lane":"271|Qinterest","beh":"Qinterest","from":14,"to":19},
{"date":"Aug-02","lane":"271|sna","beh":"sna","from":11,"to":21},
{"date":"Aug-02","lane":"271|Qinterest","beh":"Qinterest","from":12,"to":13},
{"date":"Aug-02","lane":"271|Qinterest","beh":"Qinterest","from":14,"to":16},
{"date":"Aug-03","lane":"271|sna","beh":"sna","from":8,"to":21},
{"date":"Aug-03","lane":"271|Qinterest","beh":"Qinterest","from":14,"to":16},
{"date":"Aug-03","lane":"271|Qinterest","beh":"Qinterest","from":17,"to":18},
{"date":"Aug-03","lane":"271|Out","beh":"Out","from":12,"to":13},
{"date":"Aug-03","lane":"271|O","beh":"O","from":12,"to":13},
{"date":"Aug-04","lane":"271|sna","beh":"sna","from":10,"to":21},
{"date":"Aug-04","lane":"271|WRF","beh":"WRF","from":14,"to":17},
{"date":"Aug-04","lane":"271|Qinterest","beh":"Qinterest","from":15,"to":20},
{"date":"Aug-04","lane":"271|Out","beh":"Out","from":18,"to":19},
{"date":"Aug-04","lane":"271|O","beh":"O","from":18,"to":19},
{"date":"Aug-05","lane":"271|sna","beh":"sna","from":13,"to":15},
{"date":"Aug-05","lane":"271|sna","beh":"sna","from":16,"to":21},
{"date":"Aug-05","lane":"271|Out","beh":"Out","from":17,"to":20},
{"date":"Aug-05","lane":"271|O","beh":"O","from":18,"to":20},
{"date":"Aug-06","lane":"271|sna","beh":"sna","from":11,"to":21},
{"date":"Aug-06","lane":"271|WRF","beh":"WRF","from":13,"to":14},
{"date":"Aug-06","lane":"271|WRF","beh":"WRF","from":15,"to":21},
{"date":"Aug-06","lane":"271|Out","beh":"Out","from":13,"to":14},
{"date":"Aug-06","lane":"271|Out","beh":"Out","from":15,"to":19},
{"date":"Aug-06","lane":"271|O","beh":"O","from":13,"to":14},
{"date":"Aug-06","lane":"271|F","beh":"F","from":15,"to":19},
{"date":"Aug-07","lane":"271|sna","beh":"sna","from":11,"to":21},
{"date":"Aug-07","lane":"271|WRF","beh":"WRF","from":16,"to":21},
{"date":"Aug-07","lane":"271|Qinterest","beh":"Qinterest","from":15,"to":16},
{"date":"Aug-07","lane":"271|Out","beh":"Out","from":11,"to":12},
{"date":"Aug-07","lane":"271|Out","beh":"Out","from":13,"to":14},
{"date":"Aug-07","lane":"271|Out","beh":"Out","from":15,"to":17},
{"date":"Aug-07","lane":"271|O","beh":"O","from":15,"to":16},
{"date":"Aug-07","lane":"271|F","beh":"F","from":11,"to":12},
{"date":"Aug-07","lane":"271|F","beh":"F","from":13,"to":14},

{"date":"July 28","lane":"272|sna","beh":"sna","from":13,"to":21},
{"date":"July 29","lane":"272|sna","beh":"sna","from":12,"to":21},
{"date":"July 29","lane":"272|WRF","beh":"WRF","from":16,"to":19},
{"date":"July 29","lane":"272|Qinterest","beh":"Qinterest","from":12,"to":13},
{"date":"July 29","lane":"272|Qinterest","beh":"Qinterest","from":16,"to":21},
{"date":"July 30","lane":"272|sna","beh":"sna","from":11,"to":21},
{"date":"July 30","lane":"272|Qinterest","beh":"Qinterest","from":13,"to":14},
{"date":"July 30","lane":"272|Qinterest","beh":"Qinterest","from":17,"to":21},
{"date":"July 31","lane":"272|sna","beh":"sna","from":11,"to":21},
{"date":"July 31","lane":"272|WRF","beh":"WRF","from":15,"to":16},
{"date":"July 31","lane":"272|Qinterest","beh":"Qinterest","from":15,"to":18},
{"date":"July 31","lane":"272|Qinterest","beh":"Qinterest","from":20,"to":21},
{"date":"Aug-01","lane":"272|sna","beh":"sna","from":12,"to":21},
{"date":"Aug-01","lane":"272|WRF","beh":"WRF","from":14,"to":16},
{"date":"Aug-01","lane":"272|Qinterest","beh":"Qinterest","from":14,"to":20},
{"date":"Aug-02","lane":"272|sna","beh":"sna","from":12,"to":21},
{"date":"Aug-02","lane":"272|Qinterest","beh":"Qinterest","from":11,"to":12},
{"date":"Aug-02","lane":"272|Qinterest","beh":"Qinterest","from":13,"to":15},
{"date":"Aug-02","lane":"272|Qinterest","beh":"Qinterest","from":17,"to":18},
{"date":"Aug-02","lane":"272|Qinterest","beh":"Qinterest","from":19,"to":20},
{"date":"Aug-03","lane":"272|sna","beh":"sna","from":10,"to":21},
{"date":"Aug-03","lane":"272|Qinterest","beh":"Qinterest","from":9,"to":10},
{"date":"Aug-03","lane":"272|Qinterest","beh":"Qinterest","from":13,"to":20},
{"date":"Aug-04","lane":"272|sna","beh":"sna","from":11,"to":21},
{"date":"Aug-04","lane":"272|WRF","beh":"WRF","from":11,"to":14},
{"date":"Aug-04","lane":"272|Qinterest","beh":"Qinterest","from":12,"to":14},
{"date":"Aug-04","lane":"272|Qinterest","beh":"Qinterest","from":15,"to":17},
{"date":"Aug-04","lane":"272|Out","beh":"Out","from":17,"to":18},
{"date":"Aug-05","lane":"272|sna","beh":"sna","from":13,"to":21},
{"date":"Aug-05","lane":"272|Qinterest","beh":"Qinterest","from":14,"to":17},
{"date":"Aug-06","lane":"272|sna","beh":"sna","from":13,"to":21},
{"date":"Aug-06","lane":"272|WRF","beh":"WRF","from":17,"to":18},
{"date":"Aug-06","lane":"272|Qinterest","beh":"Qinterest","from":13,"to":18},
{"date":"Aug-06","lane":"272|Out","beh":"Out","from":16,"to":18},
{"date":"Aug-06","lane":"272|Out","beh":"Out","from":19,"to":20},
{"date":"Aug-07","lane":"272|sna","beh":"sna","from":11,"to":21},
{"date":"Aug-07","lane":"272|Qinterest","beh":"Qinterest","from":13,"to":14},
{"date":"Aug-07","lane":"272|Qinterest","beh":"Qinterest","from":15,"to":19},

{"date":"July 28","lane":"276|sna","beh":"sna","from":15,"to":21},
{"date":"July 29","lane":"276|sna","beh":"sna","from":11,"to":13},
{"date":"July 29","lane":"276|sna","beh":"sna","from":14,"to":21},
{"date":"July 29","lane":"276|Qinterest","beh":"Qinterest","from":15,"to":20},
{"date":"July 30","lane":"276|sna","beh":"sna","from":12,"to":21},
{"date":"July 30","lane":"276|Qinterest","beh":"Qinterest","from":14,"to":20},
{"date":"July 31","lane":"276|sna","beh":"sna","from":11,"to":21},
{"date":"July 31","lane":"276|WRF","beh":"WRF","from":12,"to":14},
{"date":"July 31","lane":"276|Qinterest","beh":"Qinterest","from":11,"to":14},
{"date":"July 31","lane":"276|Qinterest","beh":"Qinterest","from":15,"to":18},
{"date":"Aug-01","lane":"276|Qinterest","beh":"Qinterest","from":14,"to":17},
{"date":"Aug-02","lane":"276|sna","beh":"sna","from":14,"to":21},
{"date":"Aug-02","lane":"276|Qinterest","beh":"Qinterest","from":13,"to":17},
{"date":"Aug-02","lane":"276|Out","beh":"Out","from":17,"to":18},
{"date":"Aug-02","lane":"276|Out","beh":"Out","from":19,"to":20},
{"date":"Aug-02","lane":"276|O","beh":"O","from":19,"to":21},
{"date":"Aug-03","lane":"276|sna","beh":"sna","from":11,"to":21},
{"date":"Aug-03","lane":"276|Qinterest","beh":"Qinterest","from":14,"to":20},
{"date":"Aug-04","lane":"276|sna","beh":"sna","from":11,"to":21},
{"date":"Aug-04","lane":"276|WRF","beh":"WRF","from":12,"to":13},
{"date":"Aug-04","lane":"276|Qinterest","beh":"Qinterest","from":15,"to":18},
{"date":"Aug-04","lane":"276|Qinterest","beh":"Qinterest","from":19,"to":20},
{"date":"Aug-04","lane":"276|Out","beh":"Out","from":19,"to":20},
{"date":"Aug-04","lane":"276|O","beh":"O","from":19,"to":21},
{"date":"Aug-05","lane":"276|sna","beh":"sna","from":12,"to":21},
{"date":"Aug-05","lane":"276|WRF","beh":"WRF","from":12,"to":17},
{"date":"Aug-05","lane":"276|Qinterest","beh":"Qinterest","from":14,"to":17},
{"date":"Aug-05","lane":"276|Qinterest","beh":"Qinterest","from":18,"to":19},
{"date":"Aug-06","lane":"276|sna","beh":"sna","from":11,"to":21},
{"date":"Aug-06","lane":"276|WRF","beh":"WRF","from":12,"to":13},
{"date":"Aug-06","lane":"276|WRF","beh":"WRF","from":15,"to":21},
{"date":"Aug-06","lane":"276|Qinterest","beh":"Qinterest","from":12,"to":13},
{"date":"Aug-06","lane":"276|Qinterest","beh":"Qinterest","from":17,"to":18},
{"date":"Aug-06","lane":"276|Out","beh":"Out","from":18,"to":19},
{"date":"Aug-06","lane":"276|O","beh":"O","from":18,"to":20},
{"date":"Aug-07","lane":"276|sna","beh":"sna","from":11,"to":21},
{"date":"Aug-07","lane":"276|WRF","beh":"WRF","from":11,"to":19},
{"date":"Aug-07","lane":"276|Out","beh":"Out","from":15,"to":16},
{"date":"Aug-07","lane":"276|O","beh":"O","from":15,"to":17},

{"date":"July 29","lane":"282|sna","beh":"sna","from":13,"to":21},
{"date":"July 30","lane":"282|sna","beh":"sna","from":11,"to":21},
{"date":"July 30","lane":"282|Qinterest","beh":"Qinterest","from":15,"to":16},
{"date":"July 31","lane":"282|sna","beh":"sna","from":11,"to":21},
{"date":"July 31","lane":"282|WRF","beh":"WRF","from":15,"to":16},
{"date":"July 31","lane":"282|Qinterest","beh":"Qinterest","from":14,"to":19},
{"date":"Aug-01","lane":"282|sna","beh":"sna","from":12,"to":21},
{"date":"Aug-01","lane":"282|Qinterest","beh":"Qinterest","from":14,"to":16},
{"date":"Aug-02","lane":"282|sna","beh":"sna","from":11,"to":21},
{"date":"Aug-02","lane":"282|Qinterest","beh":"Qinterest","from":19,"to":20},
{"date":"Aug-03","lane":"282|sna","beh":"sna","from":8,"to":9},
{"date":"Aug-03","lane":"282|sna","beh":"sna","from":10,"to":21},
{"date":"Aug-03","lane":"282|WRF","beh":"WRF","from":9,"to":11},
{"date":"Aug-03","lane":"282|WRF","beh":"WRF","from":19,"to":20},
{"date":"Aug-03","lane":"282|Out","beh":"Out","from":12,"to":13},
{"date":"Aug-03","lane":"282|Out","beh":"Out","from":16,"to":17},
{"date":"Aug-04","lane":"282|sna","beh":"sna","from":11,"to":21},
{"date":"Aug-04","lane":"282|WRF","beh":"WRF","from":11,"to":13},
{"date":"Aug-04","lane":"282|Out","beh":"Out","from":12,"to":13},
{"date":"Aug-04","lane":"282|Out","beh":"Out","from":14,"to":15},
{"date":"Aug-04","lane":"282|Out","beh":"Out","from":16,"to":18},
{"date":"Aug-05","lane":"282|sna","beh":"sna","from":14,"to":15},
{"date":"Aug-05","lane":"282|sna","beh":"sna","from":18,"to":21},
{"date":"Aug-05","lane":"282|WRF","beh":"WRF","from":13,"to":16},
{"date":"Aug-05","lane":"282|Qinterest","beh":"Qinterest","from":13,"to":14},
{"date":"Aug-05","lane":"282|Out","beh":"Out","from":16,"to":17},
{"date":"Aug-05","lane":"282|Out","beh":"Out","from":18,"to":19},
{"date":"Aug-06","lane":"282|sna","beh":"sna","from":11,"to":13},
{"date":"Aug-06","lane":"282|Out","beh":"Out","from":11,"to":14}
]},
"facet":{"column":{"field":"date","type":"ordinal","title":"Date",
"sort":["July 24","July 25","July 26","July 27","July 28","July 29","July 30","July 31","Aug-01","Aug-02","Aug-03","Aug-04","Aug-05","Aug-06","Aug-07"],
"header":{"labelFontSize":28,"labelFontWeight":"bold","labelFont":"Liberation Sans","labelColor":"black","labelPadding":6,
"titleFontSize":28,"titleFontWeight":"bold","titleFont":"Liberation Sans","titleColor":"black","titlePadding":13}}},
"spacing":0,
"spec":{
"width":114.3,"height":725,
"mark":{"type":"bar","clip":true},
"encoding":{
"x":{"field":"from","type":"quantitative","scale":{"domain":[7.75,21],"nice":false,"zero":false},
"axis":{"title":null,"values":[8,9,10,11,12,13,14,15,16,17,18,19,20],"labelExpr":"datum.value % 3 == 2 ? datum.label : ''","labelFontSize":18,"labelFontWeight":"bold","labelFont":"Liberation Sans","labelColor":"black","labelOverlap":false,"labelFlush":5,"labelPadding":4,"tickSize":4,"tickColor":"#cccccc","domain":false,"grid":false}},
"x2":{"field":"to"},
"y":{"field":"lane","type":"nominal",
"scale":{"paddingInner":0.2,"paddingOuter":0.1,"domain":[
"201|sna","201|WRF","201|Qinterest","201|Out","201|O",
"203|sna","203|WRF","203|Qinterest","203|Out","203|O",
"214|sna","214|WRF","214|Qinterest","214|Out","214|O",
"215|sna","215|WRF","215|Qinterest","215|Out","215|O",
"216|sna","216|WRF","216|Qinterest","216|Out","216|O","216|F",
"218|sna","218|WRF","218|Qinterest","218|Out","218|O",
"243|sna","243|WRF","243|Qinterest","243|Out","243|O",
"244|sna","244|WRF","244|Qinterest","244|Out","244|O","244|F",
"246|sna","246|WRF","246|Qinterest","246|Out","246|O",
"251|sna","251|WRF","251|Qinterest","251|Out","251|O",
"257|sna","257|WRF","257|Qinterest","257|Out",
"262|sna","262|WRF","262|Qinterest","262|Out","262|O","262|F",
"267|sna","267|WRF","267|Qinterest","267|Out","267|O","267|F",
"271|sna","271|WRF","271|Qinterest","271|Out","271|O","271|F",
"272|sna","272|WRF","272|Qinterest","272|Out",
"276|sna","276|WRF","276|Qinterest","276|Out","276|O",
"282|sna","282|WRF","282|Qinterest","282|Out"]},
"axis":{"title":"BeeID","titleAngle":0,"titleAlign":"left","titleBaseline":"alphabetic","titleX":-116,"titleY":-11,"titleFontSize":35,"titleFontWeight":"bold","titleColor":"#333333","titleFont":"Liberation Sans",
"labelExpr":"indexof(datum.value, '|Qinterest') >= 0 ? split(datum.value, '|')[0] : ''",
"labelFontSize":32,"labelFontWeight":"bold","labelFont":"Liberation Sans","labelColor":"black","labelPadding":18,"labelBaseline":"middle","labelOffset":-1.5,"labelOverlap":false,"labelBound":false,
"ticks":false,"domain":false,"bandPosition":-0.125,
"grid":true,"gridColor":"#d4d4d4","gridWidth":1.5,
"gridOpacity":{"condition":{"test":"indexof(datum.value, '|sna') >= 0","value":1},"value":0}}},
"color":{"field":"beh","type":"nominal",
"scale":{"domain":["sna","WRF","Qinterest","Out","O","F"],"range":["#1f77b4","#ff7f0e","#2ca02c","#d62728","#9467bd","#8c564b"]},
"legend":{"orient":"none","direction":"horizontal","legendX":-116,"legendY":-129,"title":null,"symbolType":"square","symbolSize":275,"symbolStrokeWidth":0,"symbolOpacity":1,
"labelFontSize":38,"labelFontWeight":"bold","labelFont":"Liberation Sans","columnPadding":19,"labelOffset":8,"labelLimit":400,
"encode":{"labels":{"update":{"fill":{"scale":"color","field":"value"}}}}}}
}},
"config":{"view":{"stroke":"#d4d4d4","strokeWidth":1.5},"font":"Liberation Sans"}
}
